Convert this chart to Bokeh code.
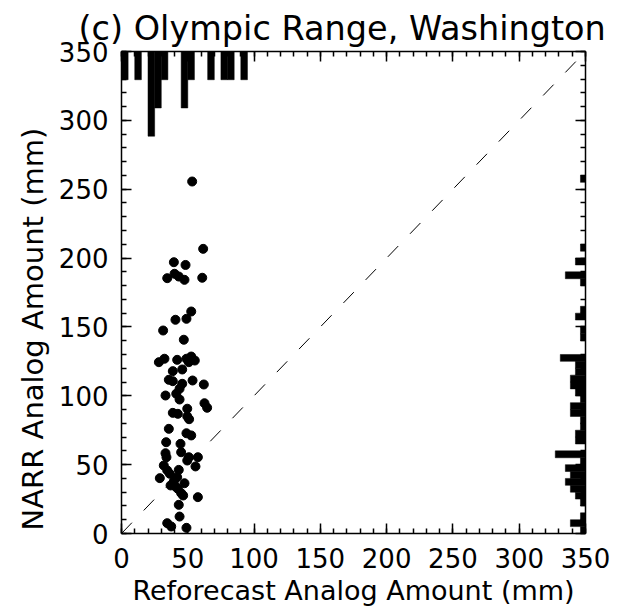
import numpy as np
from bokeh.plotting import figure
from bokeh.models import LinearAxis, Range1d, FixedTicker, Title, ColumnDataSource
from bokeh.embed import file_html
from bokeh.resources import INLINE

# ---- scatter data (mm) ----
reforecast_mm = [53.3, 61.6, 39.5, 48.3, 34.5, 40.0, 43.2, 47.5, 60.9,
                 52.6, 40.7, 49.0, 31.4, 47.0, 28.2, 32.4, 42.0, 49.0, 52.6, 55.3,
                 50.8, 45.8, 38.7, 35.7, 38.7, 45.8, 53.6, 62.1, 43.8, 33.2, 41.3,
                 43.8, 62.6, 64.6, 49.6, 38.7, 42.5, 49.6, 51.0,
                 35.7, 49.0, 52.6, 33.7, 44.5, 33.2, 33.9, 45.0, 50.8, 49.6, 57.6,
                 55.8, 31.9, 34.5, 36.4, 28.9, 43.2, 42.0, 39.5, 37.0, 40.7, 47.5,
                 42.5, 45.0, 46.5, 57.6, 43.2, 43.8, 34.5, 37.5, 49.0]
narr_mm = [255.6, 206.7, 197.0, 195.0, 185.4, 188.6, 186.6, 184.2, 185.7,
           161.2, 155.2, 155.9, 147.4, 140.7, 124.4, 126.9, 126.1, 126.9, 128.5, 125.6,
           124.4, 119.1, 117.9, 111.6, 110.6, 108.7, 111.1, 108.2, 105.1, 100.2, 101.5,
           97.3, 94.6, 91.3, 90.6, 87.6, 86.9, 85.0, 83.0,
           76.0, 72.8, 71.2, 66.3, 65.1, 58.3, 55.4, 59.0, 55.4, 53.0, 55.4,
           48.7, 49.4, 45.8, 43.4, 40.2, 46.2, 40.9, 38.0, 34.9, 34.1, 36.5,
           32.5, 29.3, 27.6, 26.4, 20.8, 12.3, 7.5, 5.1, 4.1]

# ---- top histogram (reforecast amounts), 5 mm bins ----
top_bin_lower = list(range(0, 100, 5))
top_counts = [1, 0, 1, 0, 3, 2, 1, 0, 0, 2, 1, 0, 0, 1, 0, 1, 1, 0, 1, 0]

# ---- right histogram (NARR amounts), 5 mm bins ----
right_bin_lower = list(range(0, 260, 5))
right_counts = [1, 3, 1, 0, 1, 2, 3, 4, 3, 4, 1, 6, 0, 2, 2, 1, 1, 3, 3, 1,
                2, 3, 3, 2, 2, 5, 0, 0, 1, 1, 0, 2, 1, 0, 0, 0, 1, 4, 0, 2,
                0, 1, 0, 0, 0, 0, 0, 0, 0, 0, 0, 1]

x_ticks = [0, 50, 100, 150, 200, 250, 300, 350]
y_ticks = [0, 50, 100, 150, 200, 250, 300, 350]
AXMAX = 350
BIN = 5
TOP_UNIT = 20.5    # mm of the y axis per count
RIGHT_UNIT = 3.8   # mm of the x axis per count

FONT = "DejaVu Sans"
TICK_FS = "26px"
LABEL_FS = "27px"

p = figure(width=625, height=608, output_backend="svg", toolbar_location=None,
           x_range=Range1d(0, AXMAX), y_range=Range1d(0, AXMAX),
           min_border_left=121, min_border_right=40, min_border_top=51,
           min_border_bottom=75)
p.outline_line_color = None
p.grid.visible = False
p.background_fill_color = "white"
p.border_fill_color = "white"

# top histogram
tb = [b for b, c in zip(top_bin_lower, top_counts) if c > 0]
tc = [c for c in top_counts if c > 0]
src_top = ColumnDataSource(dict(left=tb, right=[b + BIN for b in tb],
                                top=[AXMAX] * len(tb),
                                bottom=[AXMAX - c * TOP_UNIT for c in tc]))
p.quad(left="left", right="right", top="top", bottom="bottom", source=src_top,
       fill_color="black", line_color="black", line_width=0.5)

# right histogram
rb = [b for b, c in zip(right_bin_lower, right_counts) if c > 0]
rc = [c for c in right_counts if c > 0]
src_right = ColumnDataSource(dict(bottom=rb, top=[b + BIN for b in rb],
                                  right=[AXMAX] * len(rb),
                                  left=[AXMAX - c * RIGHT_UNIT for c in rc]))
p.quad(left="left", right="right", top="top", bottom="bottom", source=src_right,
       fill_color="black", line_color="black", line_width=0.5)

# 1:1 line
p.line([0, AXMAX], [0, AXMAX], line_color="black", line_width=1, line_dash="15 17")

# scatter
p.scatter(reforecast_mm, narr_mm, size=9, marker="circle",
          fill_color="black", line_color="black")

def style_axis(ax, labels=True):
    ax.axis_line_color = "black"
    ax.axis_line_width = 1.5
    ax.major_tick_line_color = "black"
    ax.minor_tick_line_color = "black"
    ax.major_tick_line_width = 1.5
    ax.minor_tick_line_width = 1.5
    ax.major_tick_in = 10
    ax.major_tick_out = 0
    ax.minor_tick_in = 5
    ax.minor_tick_out = 0
    ax.major_label_text_font = FONT
    ax.major_label_text_font_size = TICK_FS
    ax.major_label_text_color = "black"
    ax.axis_label_text_font = FONT
    ax.axis_label_text_font_size = LABEL_FS
    ax.axis_label_text_font_style = "normal"
    ax.axis_label_text_color = "black"
    if not labels:
        ax.major_label_text_font_size = "0px"
        ax.major_label_text_alpha = 0
        ax.major_label_standoff = 0

minor = list(range(0, AXMAX + 1, 10))
p.xaxis.ticker = FixedTicker(ticks=x_ticks, minor_ticks=minor)
p.yaxis.ticker = FixedTicker(ticks=y_ticks, minor_ticks=minor)
style_axis(p.xaxis[0])
style_axis(p.yaxis[0])
p.xaxis.axis_label = "Reforecast Analog Amount (mm)"
p.xaxis.major_label_standoff = 14
p.yaxis.major_label_standoff = 13
p.xaxis.axis_label_standoff = 4

top_ax = LinearAxis(ticker=FixedTicker(ticks=x_ticks, minor_ticks=minor))
style_axis(top_ax, labels=False)
p.add_layout(top_ax, "above")
right_ax = LinearAxis(ticker=FixedTicker(ticks=y_ticks, minor_ticks=minor))
style_axis(right_ax, labels=False)
p.add_layout(right_ax, "right")

# y-axis title as a side title so it can be placed like the original
p.add_layout(Title(text="NARR Analog Amount (mm)", align="left", offset=3,
                   text_font=FONT, text_font_size="29px", text_font_style="normal",
                   text_color="black", standoff=12), "left")

p.title = Title(text="(c) Olympic Range, Washington", align="left", offset=-43,
                text_font=FONT, text_font_size="33.5px", text_font_style="normal",
                text_color="black", standoff=8)

open("out.html", "w").write(file_html(p, INLINE))
